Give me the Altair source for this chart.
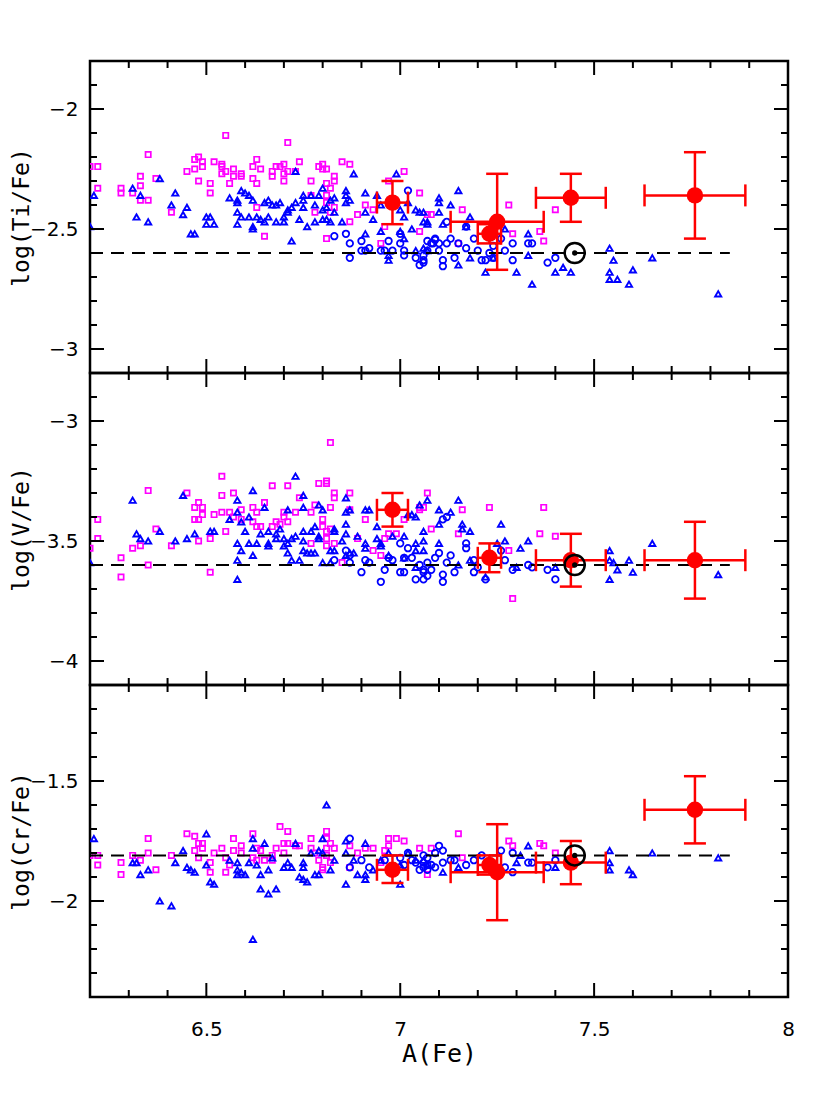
import altair as alt
import pandas as pd

# ---------------- data ----------------
X_DOMAIN = [6.2, 8.0]
X_MAJOR = [6.5, 7.0, 7.5, 8.0]
X_MINOR = [6.3, 6.4, 6.6, 6.7, 6.8, 6.9, 7.1, 7.2, 7.3, 7.4, 7.6, 7.7, 7.8, 7.9]

TI_SQUARES = [
    (6.20, -2.24), (6.22, -2.24), (6.22, -2.33), (6.28, -2.33), (6.28, -2.35), (6.31, -2.35),
    (6.33, -2.28), (6.33, -2.32), (6.33, -2.38), (6.35, -2.38), (6.35, -2.19), (6.37, -2.29),
    (6.41, -2.43), (6.45, -2.26), (6.47, -2.21), (6.47, -2.25), (6.48, -2.20), (6.48, -2.30),
    (6.49, -2.22), (6.49, -2.24), (6.51, -2.31), (6.51, -2.35), (6.52, -2.22), (6.54, -2.23),
    (6.54, -2.24), (6.54, -2.27), (6.55, -2.26), (6.55, -2.11), (6.56, -2.31), (6.57, -2.25),
    (6.57, -2.28), (6.59, -2.27), (6.59, -2.28), (6.62, -2.24), (6.62, -2.29), (6.63, -2.21),
    (6.63, -2.31), (6.63, -2.41), (6.64, -2.25), (6.65, -2.53), (6.67, -2.26), (6.67, -2.28),
    (6.68, -2.24), (6.69, -2.24), (6.70, -2.23), (6.70, -2.27), (6.70, -2.30), (6.71, -2.26),
    (6.71, -2.14), (6.73, -2.26), (6.74, -2.22), (6.77, -2.30), (6.77, -2.36), (6.78, -2.43),
    (6.79, -2.24), (6.80, -2.23), (6.80, -2.25), (6.81, -2.25), (6.81, -2.31), (6.81, -2.36),
    (6.81, -2.39), (6.81, -2.54), (6.82, -2.33), (6.82, -2.43), (6.83, -2.28), (6.83, -2.30),
    (6.83, -2.41), (6.85, -2.22), (6.87, -2.23), (6.87, -2.47), (6.89, -2.44), (6.91, -2.40),
    (6.93, -2.42), (6.95, -2.56), (6.96, -2.49), (6.97, -2.30), (7.01, -2.26), (7.05, -2.35),
    (7.05, -2.51), (7.07, -2.44), (7.08, -2.44), (7.16, -2.42), (7.15, -2.56), (7.28, -2.40),
    (7.29, -2.52), (7.36, -2.51), (7.37, -2.55), (7.40, -2.42),
]
TI_TRIANGLES = [
    (6.21, -2.36), (6.20, -2.49), (6.31, -2.33), (6.32, -2.45), (6.33, -2.36), (6.35, -2.47),
    (6.38, -2.29), (6.41, -2.40), (6.42, -2.35), (6.44, -2.44), (6.45, -2.41), (6.46, -2.52),
    (6.47, -2.52), (6.50, -2.45), (6.51, -2.45), (6.50, -2.48), (6.52, -2.48), (6.56, -2.37),
    (6.58, -2.38), (6.58, -2.39), (6.58, -2.43), (6.58, -2.48), (6.59, -2.34), (6.59, -2.45),
    (6.60, -2.35), (6.61, -2.36), (6.61, -2.45), (6.62, -2.38), (6.62, -2.49), (6.62, -2.50),
    (6.63, -2.45), (6.64, -2.46), (6.65, -2.39), (6.65, -2.47), (6.66, -2.38), (6.66, -2.45),
    (6.67, -2.40), (6.68, -2.40), (6.68, -2.47), (6.69, -2.39), (6.70, -2.47), (6.70, -2.45),
    (6.71, -2.43), (6.71, -2.42), (6.72, -2.41), (6.72, -2.55), (6.73, -2.39), (6.73, -2.26),
    (6.74, -2.46), (6.75, -2.36), (6.75, -2.38), (6.75, -2.41), (6.76, -2.49), (6.77, -2.36),
    (6.78, -2.40), (6.78, -2.47), (6.79, -2.36), (6.80, -2.46), (6.80, -2.42), (6.80, -2.33),
    (6.81, -2.41), (6.81, -2.46), (6.82, -2.47), (6.82, -2.38), (6.83, -2.37), (6.83, -2.43),
    (6.85, -2.47), (6.86, -2.34), (6.86, -2.36), (6.86, -2.39), (6.87, -2.38), (6.88, -2.27),
    (6.91, -2.35), (6.91, -2.43), (6.91, -2.52), (6.93, -2.46), (6.94, -2.36), (6.95, -2.51),
    (6.95, -2.40), (6.97, -2.61), (6.97, -2.63), (6.99, -2.27), (7.00, -2.42), (7.00, -2.51),
    (7.01, -2.45), (7.01, -2.54), (7.02, -2.39), (7.03, -2.50), (7.04, -2.42), (7.04, -2.59),
    (7.05, -2.43), (7.06, -2.43), (7.06, -2.47), (7.07, -2.59), (7.07, -2.47),
    (7.15, -2.34), (7.10, -2.37), (7.10, -2.39), (7.10, -2.43), (7.13, -2.40), (7.18, -2.45),
    (7.11, -2.48), (7.07, -2.48), (7.17, -2.49), (7.06, -2.58), (7.15, -2.65), (7.18, -2.62),
    (7.22, -2.68), (7.24, -2.62), (7.27, -2.50), (7.30, -2.68), (7.33, -2.52), (7.33, -2.61),
    (7.34, -2.73), (7.40, -2.68), (7.42, -2.66), (7.44, -2.68), (7.54, -2.58), (7.55, -2.63),
    (7.54, -2.68), (7.54, -2.71), (7.56, -2.71), (7.60, -2.67), (7.59, -2.73), (7.65, -2.62),
    (7.82, -2.77),
]
TI_CIRCLES = [
    (6.83, -2.53), (6.86, -2.52), (6.87, -2.56), (6.87, -2.62), (6.90, -2.55), (6.90, -2.59),
    (6.91, -2.59), (6.92, -2.58), (6.95, -2.59), (6.96, -2.59), (6.97, -2.55), (6.98, -2.59),
    (7.00, -2.52), (7.00, -2.56), (7.01, -2.59), (7.01, -2.61), (7.02, -2.34), (7.04, -2.62),
    (7.05, -2.65), (7.06, -2.63), (7.07, -2.59), (7.07, -2.55), (7.085, -2.56), (7.09, -2.545),
    (7.10, -2.59), (7.10, -2.56), (7.11, -2.63), (7.11, -2.655), (7.12, -2.47), (7.12, -2.56),
    (7.13, -2.54), (7.14, -2.62), (7.15, -2.56), (7.17, -2.49), (7.17, -2.58), (7.19, -2.54),
    (7.20, -2.59), (7.21, -2.63), (7.22, -2.63), (7.23, -2.60), (7.24, -2.57), (7.24, -2.62),
    (7.26, -2.54), (7.27, -2.59), (7.29, -2.56), (7.29, -2.63), (7.33, -2.56), (7.34, -2.56),
    (7.38, -2.64), (7.40, -2.62), (7.06, -2.61), (7.08, -2.56), (7.06, -2.64), (7.09, -2.54),
]
# (x, y, x_low, x_high, y_low, y_high)
TI_RED = [
    (6.98, -2.39, 6.94, 7.02, -2.48, -2.30),
    (7.25, -2.47, 7.13, 7.37, -2.67, -2.27),
    (7.23, -2.52, 7.20, 7.26, -2.56, -2.48),
    (7.44, -2.37, 7.35, 7.53, -2.47, -2.27),
    (7.76, -2.36, 7.63, 7.89, -2.54, -2.18),
]

V_SQUARES = [
    (6.20, -3.53), (6.22, -3.41), (6.22, -3.49), (6.28, -3.57), (6.28, -3.65), (6.31, -3.53),
    (6.33, -3.52), (6.35, -3.29), (6.35, -3.60), (6.37, -3.45), (6.41, -3.52), (6.45, -3.30),
    (6.47, -3.36), (6.47, -3.41), (6.48, -3.34), (6.48, -3.41), (6.48, -3.50), (6.49, -3.36),
    (6.49, -3.39), (6.51, -3.49), (6.51, -3.63), (6.52, -3.39), (6.54, -3.23), (6.54, -3.31),
    (6.54, -3.38), (6.55, -3.46), (6.56, -3.38), (6.57, -3.30), (6.57, -3.40), (6.59, -3.37),
    (6.59, -3.41), (6.62, -3.36), (6.62, -3.42), (6.63, -3.38), (6.63, -3.44), (6.64, -3.44),
    (6.65, -3.34), (6.67, -3.27), (6.67, -3.44), (6.68, -3.42), (6.69, -3.43), (6.70, -3.38),
    (6.70, -3.40), (6.71, -3.27), (6.71, -3.42), (6.73, -3.38), (6.74, -3.32), (6.77, -3.38),
    (6.77, -3.51), (6.78, -3.35), (6.79, -3.26), (6.80, -3.41), (6.80, -3.44), (6.81, -3.25),
    (6.81, -3.26), (6.81, -3.46), (6.81, -3.49), (6.81, -3.52), (6.82, -3.09), (6.82, -3.36),
    (6.82, -3.45), (6.83, -3.30), (6.83, -3.32), (6.83, -3.51), (6.85, -3.59), (6.87, -3.30),
    (6.87, -3.37), (6.89, -3.49), (6.91, -3.41), (6.93, -3.54), (6.95, -3.56), (6.96, -3.49),
    (6.97, -3.47), (6.99, -3.47), (7.01, -3.41), (7.05, -3.36), (7.05, -3.37), (7.07, -3.30),
    (7.06, -3.36), (7.16, -3.37), (7.08, -3.45), (7.15, -3.47), (7.23, -3.36), (7.28, -3.54),
    (7.36, -3.47), (7.37, -3.36), (7.40, -3.48), (7.29, -3.74),
]
V_TRIANGLES = [
    (6.20, -3.59), (6.31, -3.33), (6.32, -3.47), (6.33, -3.49), (6.35, -3.50), (6.38, -3.46),
    (6.42, -3.50), (6.44, -3.31), (6.45, -3.49), (6.47, -3.47), (6.51, -3.46), (6.52, -3.46),
    (6.56, -3.41), (6.58, -3.33), (6.58, -3.38), (6.58, -3.51), (6.58, -3.58), (6.58, -3.66),
    (6.59, -3.42), (6.59, -3.54), (6.60, -3.46), (6.61, -3.40), (6.61, -3.51), (6.62, -3.29),
    (6.62, -3.56), (6.63, -3.51), (6.64, -3.47), (6.65, -3.36), (6.66, -3.51), (6.66, -3.52),
    (6.66, -3.46), (6.68, -3.47), (6.68, -3.49), (6.69, -3.45), (6.70, -3.49), (6.70, -3.52),
    (6.71, -3.37), (6.71, -3.51), (6.71, -3.55), (6.72, -3.49), (6.72, -3.58), (6.73, -3.23),
    (6.73, -3.48), (6.74, -3.58), (6.75, -3.31), (6.75, -3.36), (6.75, -3.46), (6.75, -3.50),
    (6.75, -3.54), (6.76, -3.55), (6.77, -3.46), (6.77, -3.55), (6.78, -3.44), (6.78, -3.55),
    (6.79, -3.35), (6.79, -3.48), (6.79, -3.49), (6.80, -3.37), (6.80, -3.59), (6.82, -3.54),
    (6.82, -3.59), (6.83, -3.45), (6.83, -3.46), (6.83, -3.54), (6.85, -3.50), (6.86, -3.32),
    (6.86, -3.38), (6.86, -3.43), (6.86, -3.47), (6.86, -3.56), (6.87, -3.37), (6.87, -3.55),
    (6.88, -3.55), (6.89, -3.48), (6.91, -3.37), (6.91, -3.51), (6.91, -3.53), (6.92, -3.37),
    (6.94, -3.44), (6.94, -3.49), (6.95, -3.51), (6.95, -3.52), (6.97, -3.56), (6.98, -3.48),
    (7.01, -3.48), (7.01, -3.57), (7.02, -3.39), (7.03, -3.39), (7.04, -3.40), (7.04, -3.51),
    (7.04, -3.54), (7.04, -3.61), (7.05, -3.35), (7.06, -3.46), (7.06, -3.50), (7.06, -3.54),
    (7.07, -3.33), (7.15, -3.33), (7.10, -3.37), (7.13, -3.38), (7.10, -3.43), (7.16, -3.43),
    (7.16, -3.45), (7.18, -3.46), (7.26, -3.43), (7.10, -3.51), (7.25, -3.51), (7.27, -3.50),
    (7.31, -3.53), (7.33, -3.50), (7.18, -3.58), (7.15, -3.60), (7.22, -3.65), (7.30, -3.61),
    (7.40, -3.61), (7.54, -3.54), (7.54, -3.58), (7.55, -3.59), (7.56, -3.62), (7.54, -3.66),
    (7.59, -3.58), (7.60, -3.63), (7.65, -3.51), (7.82, -3.64),
]
V_CIRCLES = [
    (6.83, -3.58), (6.86, -3.54), (6.87, -3.56), (6.87, -3.59), (6.90, -3.63), (6.91, -3.58),
    (6.92, -3.59), (6.95, -3.67), (6.96, -3.62), (6.97, -3.57), (6.98, -3.58), (7.00, -3.51),
    (7.00, -3.63), (7.01, -3.57), (7.01, -3.63), (7.02, -3.53), (7.03, -3.57), (7.04, -3.66),
    (7.05, -3.60), (7.06, -3.63), (7.06, -3.66), (7.12, -3.40), (7.11, -3.41), (7.10, -3.55),
    (7.13, -3.56), (7.09, -3.57), (7.07, -3.59), (7.12, -3.59), (7.08, -3.62), (7.06, -3.62),
    (7.07, -3.645), (7.11, -3.64), (7.11, -3.67), (7.14, -3.63), (7.17, -3.51), (7.17, -3.53),
    (7.19, -3.58), (7.20, -3.61), (7.19, -3.63), (7.22, -3.66), (7.26, -3.54), (7.27, -3.58),
    (7.29, -3.62), (7.33, -3.60), (7.34, -3.61), (7.38, -3.62), (7.40, -3.66),
]
V_RED = [
    (6.98, -3.37, 6.94, 7.02, -3.44, -3.30),
    (7.23, -3.57, 7.20, 7.26, -3.63, -3.51),
    (7.44, -3.58, 7.35, 7.53, -3.69, -3.47),
    (7.76, -3.58, 7.63, 7.89, -3.74, -3.42),
]

CR_SQUARES = [
    (6.20, -1.81), (6.22, -1.81), (6.22, -1.85), (6.28, -1.84), (6.28, -1.89), (6.31, -1.81),
    (6.33, -1.83), (6.35, -1.74), (6.35, -1.80), (6.37, -1.87), (6.41, -1.81), (6.45, -1.72),
    (6.47, -1.73), (6.48, -1.76), (6.49, -1.76), (6.48, -1.82), (6.47, -1.79), (6.49, -1.78),
    (6.51, -1.84), (6.51, -1.88), (6.52, -1.80), (6.54, -1.78), (6.55, -1.82), (6.55, -1.88),
    (6.56, -1.85), (6.57, -1.74), (6.57, -1.79), (6.59, -1.77), (6.59, -1.80), (6.62, -1.72),
    (6.62, -1.82), (6.63, -1.78), (6.63, -1.83), (6.64, -1.79), (6.65, -1.83), (6.67, -1.81),
    (6.67, -1.83), (6.68, -1.78), (6.69, -1.69), (6.70, -1.76), (6.70, -1.80), (6.71, -1.71),
    (6.71, -1.76), (6.73, -1.77), (6.74, -1.77), (6.77, -1.74), (6.77, -1.78), (6.78, -1.80),
    (6.79, -1.83), (6.80, -1.86), (6.80, -1.87), (6.81, -1.71), (6.81, -1.74), (6.81, -1.78),
    (6.81, -1.81), (6.82, -1.76), (6.82, -1.84), (6.83, -1.78), (6.87, -1.77), (6.87, -1.86),
    (6.89, -1.80), (6.91, -1.78), (6.93, -1.78), (6.95, -1.84), (6.96, -1.79), (6.97, -1.74),
    (6.97, -1.77), (6.99, -1.74), (7.01, -1.75), (7.05, -1.78), (7.07, -1.89), (7.15, -1.72),
    (7.08, -1.78), (7.16, -1.82), (7.28, -1.75), (7.29, -1.77), (7.36, -1.76), (7.37, -1.77),
    (7.40, -1.80),
]
CR_TRIANGLES = [
    (6.21, -1.74), (6.31, -1.84), (6.32, -1.84), (6.33, -1.89), (6.35, -1.87), (6.38, -2.00),
    (6.41, -2.02), (6.42, -1.84), (6.44, -1.79), (6.45, -1.86), (6.46, -1.87), (6.47, -1.88),
    (6.50, -1.72), (6.50, -1.85), (6.51, -1.92), (6.52, -1.93), (6.56, -1.83), (6.58, -1.84),
    (6.58, -1.89), (6.58, -1.87), (6.59, -1.88), (6.60, -1.89), (6.61, -1.84), (6.62, -1.74),
    (6.62, -1.78), (6.62, -2.16), (6.63, -1.85), (6.64, -1.89), (6.64, -1.95), (6.65, -1.76),
    (6.66, -1.97), (6.66, -1.87), (6.67, -1.82), (6.68, -1.95), (6.70, -1.86), (6.71, -1.84),
    (6.72, -1.86), (6.73, -1.76), (6.74, -1.90), (6.75, -1.84), (6.75, -1.86), (6.75, -1.91),
    (6.76, -1.92), (6.77, -1.80), (6.78, -1.89), (6.79, -1.89), (6.79, -1.79), (6.80, -1.74),
    (6.80, -1.80), (6.81, -1.60), (6.82, -1.87), (6.83, -1.83), (6.86, -1.75), (6.86, -1.80),
    (6.86, -1.93), (6.88, -1.83), (6.89, -1.89), (6.91, -1.76), (6.91, -1.89), (6.91, -1.91),
    (6.93, -1.87), (6.95, -1.83), (6.97, -1.80), (7.00, -1.93), (7.00, -1.85), (7.02, -1.80),
    (7.04, -1.83), (7.06, -1.83), (7.07, -1.85), (7.33, -1.77), (7.31, -1.81), (7.30, -1.84),
    (7.11, -1.88), (7.15, -1.86), (7.40, -1.86), (7.54, -1.79), (7.54, -1.84), (7.54, -1.87),
    (7.59, -1.87), (7.60, -1.89), (7.65, -1.80), (7.82, -1.82),
]
CR_CIRCLES = [
    (6.87, -1.74), (6.87, -1.86), (6.90, -1.83), (6.92, -1.86), (6.96, -1.83), (7.00, -1.82),
    (7.01, -1.85), (7.04, -1.84), (7.05, -1.87), (7.06, -1.81), (7.07, -1.85), (7.03, -1.83),
    (7.02, -1.80), (7.10, -1.77), (7.11, -1.79), (7.09, -1.80), (7.07, -1.82), (7.06, -1.84),
    (7.08, -1.85), (7.06, -1.86), (7.11, -1.84), (7.13, -1.83), (7.14, -1.83), (7.17, -1.85),
    (7.19, -1.83), (7.21, -1.81), (7.26, -1.79), (7.27, -1.86), (7.29, -1.88), (7.29, -1.80),
    (7.33, -1.84), (7.34, -1.84), (7.38, -1.86), (7.40, -1.83), (7.07, -1.87), (7.09, -1.86),
]
CR_RED = [
    (6.98, -1.87, 6.94, 7.02, -1.925, -1.81),
    (7.23, -1.85, 7.20, 7.26, -1.89, -1.81),
    (7.25, -1.88, 7.13, 7.37, -2.08, -1.68),
    (7.44, -1.84, 7.35, 7.53, -1.93, -1.75),
    (7.76, -1.62, 7.63, 7.89, -1.76, -1.48),
]

SUN_X = 7.45
SOLAR_LINE_X = [6.2, 7.85]

PANELS = [
    dict(title="log(Ti/Fe)", domain=[-3.1, -1.8], major=[-3.0, -2.5, -2.0],
         minor=[-1.9, -2.1, -2.2, -2.3, -2.4, -2.6, -2.7, -2.8, -2.9],
         solar=-2.6, squares=TI_SQUARES, triangles=TI_TRIANGLES, circles=TI_CIRCLES, red=TI_RED),
    dict(title="log(V/Fe)", domain=[-4.1, -2.8], major=[-4.0, -3.5, -3.0],
         minor=[-2.9, -3.1, -3.2, -3.3, -3.4, -3.6, -3.7, -3.8, -3.9],
         solar=-3.6, squares=V_SQUARES, triangles=V_TRIANGLES, circles=V_CIRCLES, red=V_RED),
    dict(title="log(Cr/Fe)", domain=[-2.4, -1.1], major=[-2.0, -1.5],
         minor=[-1.2, -1.3, -1.4, -1.6, -1.7, -1.8, -1.9, -2.1, -2.2, -2.3],
         solar=-1.81, squares=CR_SQUARES, triangles=CR_TRIANGLES, circles=CR_CIRCLES, red=CR_RED),
]

# ---------------- style ----------------
W, H = 698, 312
MAJOR_LEN, MINOR_LEN = 14, 7
LABEL_FONT = "DejaVu Sans"
TITLE_FONT = "DejaVu Sans Mono"
RED = "#ff0000"
BLUE = "#0000ff"
MAGENTA = "#ff00ff"


def panel(cfg, bottom):
    xs = alt.Scale(domain=X_DOMAIN, nice=False, zero=False)
    ys = alt.Scale(domain=cfg["domain"], nice=False, zero=False)

    def df(points):
        return pd.DataFrame(points, columns=["x", "y"])

    red = pd.DataFrame(cfg["red"], columns=["x", "y", "xlo", "xhi", "ylo", "yhi"])
    hcaps = pd.concat([red[["x", "ylo"]].rename(columns={"ylo": "y"}),
                       red[["x", "yhi"]].rename(columns={"yhi": "y"})])
    vcaps = pd.concat([red[["xlo", "y"]].rename(columns={"xlo": "x"}),
                       red[["xhi", "y"]].rename(columns={"xhi": "x"})])
    solar = pd.DataFrame({"x": [SOLAR_LINE_X[0]], "x2": [SOLAR_LINE_X[1]], "y": [cfg["solar"]]})
    sun = pd.DataFrame({"x": [SUN_X], "y": [cfg["solar"]]})

    y_axis = alt.Axis(
        values=cfg["major"], format="~g", ticks=False, tickSize=0, domain=False, grid=False,
        labelFont=LABEL_FONT, labelFontSize=20, labelColor="black", labelPadding=12,
        title=cfg["title"], titleFont=TITLE_FONT, titleFontSize=23, titleFontWeight="normal",
        titleColor="black", titleAngle=270, titleX=-69, titleY=H / 2,
        titleAlign="center", titleBaseline="middle",
    )
    if bottom:
        x_axis = alt.Axis(
            values=X_MAJOR, format="~g", ticks=False, tickSize=0, domain=False, grid=False,
            labelFont=LABEL_FONT, labelFontSize=20, labelColor="black", labelPadding=22,
            labelFlush=False, title="A(Fe)", titleFont=TITLE_FONT, titleFontSize=25,
            titleFontWeight="normal", titleColor="black", titlePadding=2,
        )
    else:
        x_axis = None

    def X(ax=None):
        return alt.X("x:Q", scale=xs, axis=ax)

    def Y(ax=None):
        return alt.Y("y:Q", scale=ys, axis=ax)

    # inward ticks on all four sides, positioned through the scales
    def xticks(values, length):
        base = alt.Chart(pd.DataFrame({"x": values})).mark_rule(color="black", strokeWidth=2)
        top = base.encode(x=X(), y=alt.value(0), y2=alt.value(length))
        bot = base.encode(x=X(), y=alt.value(H), y2=alt.value(H - length))
        return [top, bot]

    def yticks(values, length):
        base = alt.Chart(pd.DataFrame({"y": values})).mark_rule(color="black", strokeWidth=2)
        left = base.encode(y=Y(), x=alt.value(0), x2=alt.value(length))
        right = base.encode(y=Y(), x=alt.value(W), x2=alt.value(W - length))
        return [left, right]

    ticks = (xticks(X_MAJOR, MAJOR_LEN) + xticks(X_MINOR, MINOR_LEN)
             + yticks(cfg["major"], MAJOR_LEN) + yticks(cfg["minor"], MINOR_LEN))

    squares = alt.Chart(df(cfg["squares"])).mark_point(
        shape="square", filled=False, size=28, strokeWidth=1.7, color=MAGENTA, opacity=1, clip=True
    ).encode(x=X(x_axis), y=Y(y_axis))
    triangles = alt.Chart(df(cfg["triangles"])).mark_point(
        shape="triangle-up", filled=False, size=38, strokeWidth=1.9, color=BLUE, opacity=1, clip=True
    ).encode(x=X(), y=Y())
    circles = alt.Chart(df(cfg["circles"])).mark_point(
        shape="circle", filled=False, size=42, strokeWidth=1.8, color=BLUE, opacity=1, clip=True
    ).encode(x=X(), y=Y())
    dashed = alt.Chart(solar).mark_rule(
        color="black", strokeWidth=2, strokeDash=[13, 8]
    ).encode(x=X(), x2="x2:Q", y=Y())
    xbars = alt.Chart(red).mark_rule(color=RED, strokeWidth=2.5).encode(
        x=alt.X("xlo:Q", scale=xs, axis=None), x2="xhi:Q", y=Y())
    ybars = alt.Chart(red).mark_rule(color=RED, strokeWidth=2.5).encode(
        x=X(), y=alt.Y("ylo:Q", scale=ys, axis=None), y2="yhi:Q")
    hcap = alt.Chart(hcaps).mark_point(
        shape="M-1,0L1,0", size=484, strokeWidth=2.5, color=RED, filled=False, opacity=1
    ).encode(x=X(), y=Y())
    vcap = alt.Chart(vcaps).mark_point(
        shape="M0,-1L0,1", size=484, strokeWidth=2.5, color=RED, filled=False, opacity=1
    ).encode(x=X(), y=Y())
    dots = alt.Chart(red).mark_circle(size=270, color=RED, opacity=1).encode(x=X(), y=Y())
    ring = alt.Chart(sun).mark_point(
        shape="circle", filled=False, size=400, strokeWidth=2.5, color="black", opacity=1
    ).encode(x=X(), y=Y())
    core = alt.Chart(sun).mark_circle(size=28, color="black", opacity=1).encode(x=X(), y=Y())

    return alt.layer(
        squares, triangles, circles, dashed, xbars, ybars, hcap, vcap, dots, ring, core, *ticks
    ).resolve_axis(x="independent", y="independent").properties(width=W, height=H)


charts = [panel(c, i == len(PANELS) - 1) for i, c in enumerate(PANELS)]
chart = alt.vconcat(*charts, spacing=0, bounds="flush").properties(
    padding={"left": 0, "top": 50, "right": 10, "bottom": 10}, background="white"
).configure_view(stroke="black", strokeWidth=2.5)

chart.save("out.html", embed_options={"renderer": "svg", "actions": False})
